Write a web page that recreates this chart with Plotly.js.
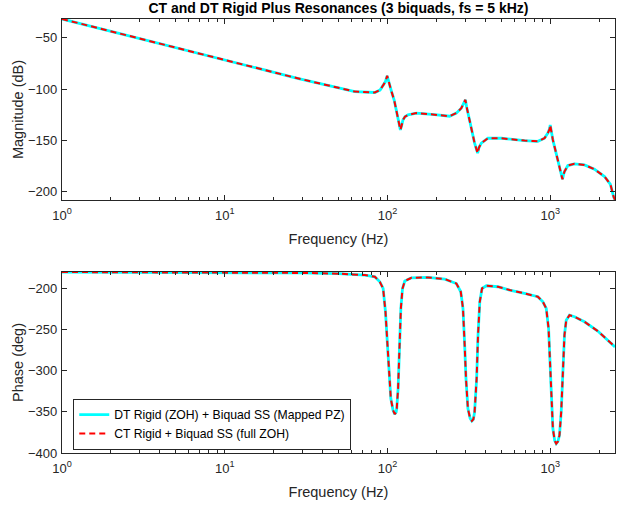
<!DOCTYPE html>
<html>
<head>
<meta charset="utf-8">
<script src="https://cdn.plot.ly/plotly-3.0.1.min.js"></script>
<style>
html,body{margin:0;padding:0;background:#fff;}
#chart{width:638px;height:506px;}
</style>
</head>
<body>
<div id="chart"></div>
<script>
// ---- Data ----
const freqMag = [1, 10, 28, 63, 75, 83.6, 90, 94, 97, 99.5, 102, 105.8, 110, 113.5, 117, 120, 122, 124.6, 128, 133.7, 150.6, 177.4, 195, 241, 265, 284, 293, 301, 306, 312, 330, 343, 358, 365, 377, 414, 500, 604, 695, 782, 839, 922, 967, 990, 1000, 1038, 1088, 1140, 1189, 1205, 1223, 1283, 1409, 1623, 1869, 2155, 2343, 2457, 2500];
const magDT = [-31.7, -71.7, -89.5, -102.5, -103.5, -103.4, -101, -97, -93, -87.1, -94, -102.4, -111, -120.3, -130, -139.8, -136, -130, -127, -125.2, -123.5, -124.2, -125, -126.5, -123.5, -118.7, -115, -110.5, -117, -123.5, -139.8, -152.8, -162.6, -157, -152.8, -148, -148, -149.6, -150.3, -150.8, -151, -148, -143, -139, -135, -149.6, -162.6, -175.6, -188, -184, -180.5, -174.6, -173, -174, -178.2, -185.3, -193, -205.5, -208];
const magCT = [-31.7, -71.7, -89.5, -102.5, -103.5, -103.4, -101, -97, -93, -87.1, -94, -102.4, -111, -120.3, -130, -139.8, -136, -130, -127, -125.2, -123.5, -124.2, -125, -126.5, -123.5, -118.7, -115, -110.5, -117, -123.5, -139.8, -152.8, -162.6, -157, -152.8, -148, -148, -149.6, -150.3, -150.8, -151, -148, -143, -139, -135, -149.6, -162.6, -175.6, -188, -184, -180.5, -174.6, -173, -174, -178.2, -185.3, -193, -205.5, -208];

const freqPh = [1, 10, 30, 50, 72.6, 83.6, 89.7, 94, 97.2, 100, 102.4, 104.8, 108.2, 110.8, 113, 114, 116.2, 118.5, 120.8, 123.7, 127.7, 140.3, 177.4, 225, 265, 282, 291, 298, 303.6, 312, 322, 330, 337, 343, 353, 360, 369, 381, 405, 477, 563, 695, 839, 901, 945, 977, 995, 1014, 1038, 1065, 1088, 1115, 1140, 1168, 1195, 1223, 1254, 1313, 1409, 1623, 1959, 2255, 2457, 2500];
const phDT = [-180, -180.4, -181.1, -182, -183.7, -185.8, -191.8, -200, -228.3, -268.9, -309.5, -333.8, -348, -352.8, -350.5, -346, -321.6, -268.9, -224.3, -200, -191, -187, -186.6, -188.6, -194, -204, -224.3, -268.9, -309.5, -346, -358, -361, -359, -350, -309.5, -256.7, -216.2, -200, -196.7, -197.9, -201.9, -206, -210, -216.2, -224.3, -248.7, -289.2, -337.8, -370.3, -385, -388.6, -386, -378.3, -350, -301.3, -256.7, -238.5, -232.4, -234.4, -240.5, -251.8, -262.8, -269.7, -271];
const phCT = [-180, -180.4, -181.1, -182, -183.7, -185.8, -191.8, -200, -228.3, -268.9, -309.5, -333.8, -348, -352.8, -350.5, -346, -321.6, -268.9, -224.3, -200, -191, -187, -186.6, -188.6, -194, -204, -224.3, -268.9, -309.5, -346, -358, -361, -359, -350, -309.5, -256.7, -216.2, -200, -196.7, -197.9, -201.9, -206, -210, -216.2, -224.3, -248.7, -289.2, -337.8, -370.3, -385, -388.6, -386, -378.3, -350, -301.3, -256.7, -238.5, -232.4, -234.4, -240.5, -251.8, -262.8, -269.7, -271];

const seriesNames = ['DT Rigid (ZOH) + Biquad SS (Mapped PZ)', 'CT Rigid + Biquad SS (full ZOH)'];
const xTickVals = [1, 10, 100, 1000];
const xTickText = ['10<sup>0</sup>', '10<sup>1</sup>', '10<sup>2</sup>', '10<sup>3</sup>'];
const magTicks = [-200, -150, -100, -50];
const phTicks = [-400, -350, -300, -250, -200];
const titleText = 'CT and DT Rigid Plus Resonances (3 biquads, fs = 5 kHz)';

// ---- Build ----
const minorVals = [];
for (let d = 0; d < 4; d++) for (let k = 2; k <= 9; k++) { const v = k * Math.pow(10, d); if (v <= 2500) minorVals.push(v); }

const axColor = '#262626';
const fontFam = '"Liberation Sans", Arial, Helvetica, sans-serif';

const cyan = {color: '#00FFFF', width: 2.8};
const red = {color: '#FF0000', width: 2, dash: '6px,4px'};

const traces = [
  {x: freqMag, y: magDT, mode: 'lines', line: cyan, name: seriesNames[0], xaxis: 'x', yaxis: 'y', showlegend: false},
  {x: freqMag, y: magCT, mode: 'lines', line: red, name: seriesNames[1], xaxis: 'x', yaxis: 'y', showlegend: false},
  {x: freqPh, y: phDT, mode: 'lines', line: cyan, name: seriesNames[0], xaxis: 'x2', yaxis: 'y2'},
  {x: freqPh, y: phCT, mode: 'lines', line: red, name: seriesNames[1], xaxis: 'x2', yaxis: 'y2'}
];

function xAxis(anchor) {
  return {
    type: 'log', range: [0, Math.log10(2500)], anchor: anchor,
    tickmode: 'array', tickvals: xTickVals, ticktext: xTickText,
    ticks: 'inside', ticklen: 5, tickwidth: 1, tickcolor: axColor,
    minor: {tickmode: 'array', tickvals: minorVals, ticks: 'inside', ticklen: 3, tickcolor: axColor, tickwidth: 1},
    showline: true, linecolor: axColor, linewidth: 1.2, mirror: 'allticks',
    showgrid: false, zeroline: false,
    tickfont: {family: fontFam, size: 13, color: axColor},
    ticklabelstandoff: 3,
    title: {text: 'Frequency (Hz)', font: {family: fontFam, size: 14.5, color: axColor}, standoff: 12},
    automargin: false
  };
}
function yAxis(anchor, range, ticks, label, domain) {
  return {
    range: range, anchor: anchor, domain: domain,
    tickmode: 'array', tickvals: ticks,
    ticks: 'inside', ticklen: 5, tickwidth: 1, tickcolor: axColor,
    showline: true, linecolor: axColor, linewidth: 1.2, mirror: 'allticks',
    showgrid: false, zeroline: false,
    tickfont: {family: fontFam, size: 13, color: axColor},
    ticklabelstandoff: 1,
    title: {text: label, font: {family: fontFam, size: 14.5, color: axColor}, standoff: 0},
    automargin: false
  };
}

const layout = {
  width: 638, height: 506,
  margin: {l: 62, r: 23, t: 19, b: 53},
  paper_bgcolor: '#fff', plot_bgcolor: '#fff',
  title: {text: '<b>' + titleText + '</b>', x: 0.5, xref: 'paper', xanchor: 'center', y: 0.984, yanchor: 'middle', yref: 'container',
          font: {family: fontFam, size: 14, color: '#000'}},
  xaxis: xAxis('y'),
  yaxis: yAxis('x', [-208.2, -31.7], magTicks, 'Magnitude (dB)', [0.583, 1]),
  xaxis2: xAxis('y2'),
  yaxis2: yAxis('x2', [-400, -180], phTicks, 'Phase (deg)', [0, 0.417]),
  showlegend: true,
  legend: {x: 0.02, y: 0.066, xanchor: 'left', yanchor: 'middle', bgcolor: '#fff', bordercolor: axColor, borderwidth: 1.2,
           font: {family: fontFam, size: 12.2, color: '#000'}, tracegroupgap: 0, itemclick: false},
};

Plotly.newPlot('chart', traces, layout, {staticPlot: true, displayModeBar: false});
</script>
</body>
</html>
